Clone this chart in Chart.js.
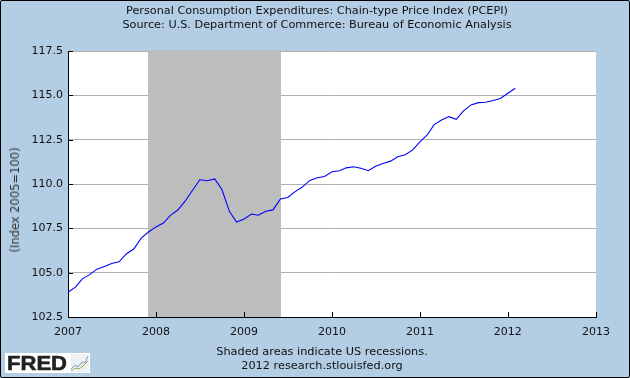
<!DOCTYPE html>
<html>
<head>
<meta charset="utf-8">
<title>PCEPI</title>
<script src="https://cdn.jsdelivr.net/npm/chart.js@4"></script>
<style>
    html, body { margin: 0; padding: 0; background: #b3cde4; }
    #wrap { position: relative; width: 630px; height: 378px; overflow: hidden; background: #b3cde4; font-family: "DejaVu Sans", sans-serif; color: #111; }
    canvas { position: absolute; left: 0; top: 0; }
    #frame { position: absolute; left: 0; top: 0; width: 628px; height: 376px; border: 1px solid #000; border-radius: 2px; pointer-events: none; }
    #header { position: absolute; left: 67px; width: 500px; top: 4px; text-align: center; font-size: 11.25px; line-height: 14px; }
    #yTitle { position: absolute; left: 15px; top: 200px; transform: translate(-50%, -50%) rotate(-90deg); font-size: 11.5px; white-space: nowrap; color: #333; }
    #footer { position: absolute; left: 122px; width: 400px; top: 345px; text-align: center; font-size: 11.3px; line-height: 14px; }
    #logo { position: absolute; left: 5px; top: 353px; width: 85px; height: 20px; background: #fff; }
    #logo span { position: absolute; left: 2px; top: -2px; font: 900 21px/24px "Liberation Sans", sans-serif; color: #222; -webkit-text-stroke: 0.6px #222; transform: scaleX(1.05); transform-origin: left top; }
    #logo svg { position: absolute; left: 66px; top: 1px; }
</style>
</head>
<body>
<div id="wrap">
    <canvas id="myChart" width="630" height="378"></canvas>
    <div id="header"></div>
    <div id="yTitle">(Index 2005=100)</div>
    <div id="footer">Shaded areas indicate US recessions.<br>2012 research.stlouisfed.org</div>
    <div id="logo">
        <span>FRED</span>
        <svg width="18" height="18"><rect width="18" height="18" fill="#eef1f4"/><polyline points="0,15 4,11 7,13 11,8 14,9 17,2" fill="none" stroke="#8a9ab5"/><polyline points="0,17 4,14 8,15 12,12 17,7" fill="none" stroke="#8fae5a"/></svg>
    </div>
    <div id="frame"></div>
</div>
<script>
const months = [
    "2007-01", "2007-02", "2007-03", "2007-04", "2007-05", "2007-06", "2007-07", "2007-08", "2007-09", "2007-10", "2007-11", "2007-12",
    "2008-01", "2008-02", "2008-03", "2008-04", "2008-05", "2008-06", "2008-07", "2008-08", "2008-09", "2008-10", "2008-11", "2008-12",
    "2009-01", "2009-02", "2009-03", "2009-04", "2009-05", "2009-06", "2009-07", "2009-08", "2009-09", "2009-10", "2009-11", "2009-12",
    "2010-01", "2010-02", "2010-03", "2010-04", "2010-05", "2010-06", "2010-07", "2010-08", "2010-09", "2010-10", "2010-11", "2010-12",
    "2011-01", "2011-02", "2011-03", "2011-04", "2011-05", "2011-06", "2011-07", "2011-08", "2011-09", "2011-10", "2011-11", "2011-12",
    "2012-01", "2012-02"
];
const pcepi = [
    103.90, 104.18, 104.65, 104.89, 105.20, 105.35, 105.52, 105.61, 106.07, 106.33, 106.95, 107.29,
    107.58, 107.80, 108.23, 108.53, 109.03, 109.65, 110.24, 110.18, 110.29, 109.69, 108.46, 107.86,
    108.03, 108.31, 108.24, 108.46, 108.54, 109.16, 109.24, 109.57, 109.84, 110.20, 110.35, 110.42,
    110.69, 110.75, 110.91, 110.97, 110.89, 110.75, 111.00, 111.16, 111.29, 111.54, 111.65, 111.91,
    112.38, 112.78, 113.35, 113.61, 113.80, 113.65, 114.12, 114.46, 114.59, 114.61, 114.71, 114.82,
    115.12, 115.40
];
const yearTicks = ["2007", "2008", "2009", "2010", "2011", "2012", "2013"];
const recessionStart = "2007-12";
const recessionEnd = "2009-06";
const titleLines = [
    "Personal Consumption Expenditures: Chain-type Price Index (PCEPI)",
    "Source: U.S. Department of Commerce: Bureau of Economic Analysis"
];

document.querySelector("#header").innerHTML = titleLines.join("<br>");

function monthToTime(month){
    return Date.parse(month + "-01T00:00:00Z");
}

const plotBackground = {
    id: "plotBackground",
    beforeDraw(chart){
        const area = chart.chartArea;
        chart.ctx.fillStyle = "#fff";
        chart.ctx.fillRect(area.left, area.top, area.right - area.left, area.bottom - area.top);
    }
};

const recessionBand = {
    id: "recessionBand",
    beforeDatasetsDraw(chart){
        const area = chart.chartArea;
        const x1 = Math.round(chart.scales.x.getPixelForValue(monthToTime(recessionStart)));
        const x2 = Math.ceil(chart.scales.x.getPixelForValue(monthToTime(recessionEnd)));
        chart.ctx.fillStyle = "#bdbdbd";
        chart.ctx.fillRect(x1, area.top - 1, x2 - x1, area.bottom - area.top + 1);
    }
};

// FRED draws its ticks inside the plot, chart.js only draws them outside
const inwardTicks = {
    id: "inwardTicks",
    afterDatasetsDraw(chart){
        const ctx = chart.ctx;
        const area = chart.chartArea;
        ctx.save();
        ctx.strokeStyle = "#000";
        ctx.lineWidth = 1;
        ctx.beginPath();
        chart.scales.y.ticks.forEach(tick => {
            const y = Math.round(chart.scales.y.getPixelForValue(tick.value)) + 0.5;
            ctx.moveTo(area.left, y);
            ctx.lineTo(area.left + 5, y);
        });
        chart.scales.x.ticks.forEach(tick => {
            const x = Math.round(chart.scales.x.getPixelForValue(tick.value)) + 0.5;
            ctx.moveTo(x, area.bottom);
            ctx.lineTo(x, area.bottom - 5);
        });
        ctx.stroke();
        ctx.restore();
    }
};

new Chart(document.getElementById("myChart"), {
    type: "line",
    data: {
        datasets: [{
            label: "PCEPI",
            data: pcepi.map((value, i) => ({ x: monthToTime(months[i]), y: value })),
            borderColor: "#0000ff",
            borderWidth: 1.1,
            pointRadius: 0,
            tension: 0
        }]
    },
    options: {
        responsive: false,
        animation: false,
        layout: { padding: { left: 3, right: 34, top: 51, bottom: 0 } },
        plugins: {
            legend: { display: false },
            tooltip: { enabled: false },
            title: { display: false }
        },
        scales: {
            x: {
                type: "linear",
                min: monthToTime(yearTicks[0] + "-01"),
                max: monthToTime(yearTicks[yearTicks.length - 1] + "-01"),
                afterBuildTicks(scale){
                    scale.ticks = yearTicks.map(year => ({ value: monthToTime(year + "-01") }));
                },
                afterFit(scale){
                    scale.height = 61;
                },
                grid: { display: false, drawTicks: false },
                border: { color: "#000", width: 1 },
                ticks: {
                    autoSkip: false,
                    maxRotation: 0,
                    padding: 9,
                    color: "#111",
                    font: { family: "DejaVu Sans", size: 11 },
                    callback: value => String(new Date(value).getUTCFullYear())
                }
            },
            y: {
                min: 102.5,
                max: 117.5,
                afterFit(scale){
                    scale.width = 65;
                },
                grid: { color: "#b0b0b0", drawTicks: false },
                border: { color: "#000", width: 1 },
                ticks: {
                    stepSize: 2.5,
                    padding: 5,
                    color: "#111",
                    font: { family: "DejaVu Sans", size: 11 },
                    callback: value => value.toFixed(1)
                }
            }
        }
    },
    plugins: [plotBackground, recessionBand, inwardTicks]
});
</script>
</body>
</html>
